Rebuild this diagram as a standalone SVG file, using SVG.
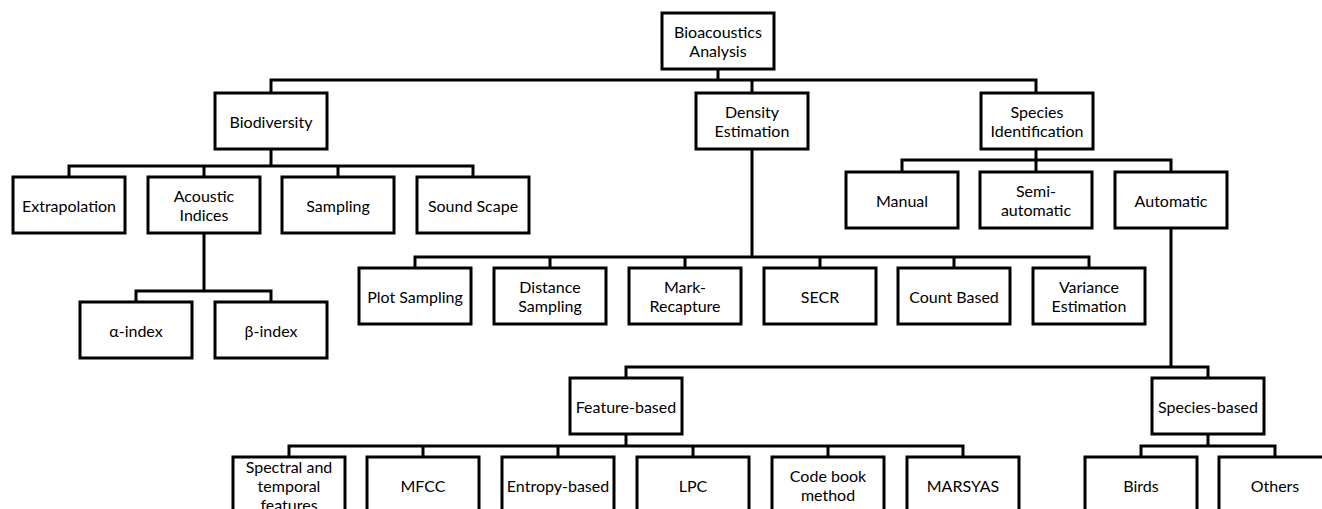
<svg xmlns="http://www.w3.org/2000/svg" width="1322" height="509" viewBox="0 0 1322 509">
<style>
.b{fill:#fff;stroke:#000;stroke-width:3}
.t{font-family:Lato,"Liberation Sans",sans-serif;font-size:16px;fill:#000;text-anchor:middle;dominant-baseline:central}
.c{fill:none;stroke:#000;stroke-width:3;stroke-linecap:square}
</style>
<rect width="1322" height="509" fill="#fff"/>
<g id="connectors">
<path class="c" d="M718 69V80M271 80H1036M271 80V93M752 80V93M1036 80V93"/>
<path class="c" d="M271 149V166M69 166H473M69 166V177M204 166V177M338 166V177M473 166V177"/>
<path class="c" d="M204 233V291M136 291H271M136 291V302M271 291V302"/>
<path class="c" d="M752 149V257M415 257H1089M415 257V268M550 257V268M685 257V268M820 257V268M954 257V268M1089 257V268"/>
<path class="c" d="M1036 149V160M902 160H1171M902 160V172M1036 160V172M1171 160V172"/>
<path class="c" d="M1171 228V367M626 367H1208M626 367V378M1208 367V378"/>
<path class="c" d="M626 434V446M289 446H963M289 446V457M423 446V457M558 446V457M693 446V457M828 446V457M963 446V457"/>
<path class="c" d="M1208 434V446M1141 446H1275M1141 446V457M1275 446V457"/>
</g>
<g id="root"><rect class="b" x="662" y="13" width="112" height="56"/><text class="t" x="718" y="31.5">Bioacoustics</text><text class="t" x="718" y="50.5">Analysis</text></g>
<g id="biodiversity"><rect class="b" x="215" y="93" width="112" height="56"/><text class="t" x="271" y="121">Biodiversity</text></g>
<g id="density"><rect class="b" x="696" y="93" width="112" height="56"/><text class="t" x="752" y="111.5">Density</text><text class="t" x="752" y="130.5">Estimation</text></g>
<g id="species"><rect class="b" x="981" y="93" width="112" height="56"/><text class="t" x="1037" y="111.5">Species</text><text class="t" x="1037" y="130.5">Identification</text></g>
<g id="extrapolation"><rect class="b" x="13" y="177" width="112" height="56"/><text class="t" x="69" y="205">Extrapolation</text></g>
<g id="acoustic"><rect class="b" x="148" y="177" width="112" height="56"/><text class="t" x="204" y="195.5">Acoustic</text><text class="t" x="204" y="214.5">Indices</text></g>
<g id="sampling"><rect class="b" x="282" y="177" width="112" height="56"/><text class="t" x="338" y="205">Sampling</text></g>
<g id="soundscape"><rect class="b" x="417" y="177" width="112" height="56"/><text class="t" x="473" y="205">Sound Scape</text></g>
<g id="manual"><rect class="b" x="846" y="172" width="112" height="56"/><text class="t" x="902" y="200">Manual</text></g>
<g id="semi"><rect class="b" x="980" y="172" width="112" height="56"/><text class="t" x="1036" y="190.5">Semi-</text><text class="t" x="1036" y="209.5">automatic</text></g>
<g id="automatic"><rect class="b" x="1115" y="172" width="112" height="56"/><text class="t" x="1171" y="200">Automatic</text></g>
<g id="alpha"><rect class="b" x="80" y="302" width="112" height="56"/><text class="t" x="136" y="330">α-index</text></g>
<g id="beta"><rect class="b" x="215" y="302" width="112" height="56"/><text class="t" x="271" y="330">β-index</text></g>
<g id="plot"><rect class="b" x="359" y="268" width="112" height="56"/><text class="t" x="415" y="296">Plot Sampling</text></g>
<g id="distance"><rect class="b" x="494" y="268" width="112" height="56"/><text class="t" x="550" y="286.5">Distance</text><text class="t" x="550" y="305.5">Sampling</text></g>
<g id="mark"><rect class="b" x="629" y="268" width="112" height="56"/><text class="t" x="685" y="286.5">Mark-</text><text class="t" x="685" y="305.5">Recapture</text></g>
<g id="secr"><rect class="b" x="764" y="268" width="112" height="56"/><text class="t" x="820" y="296">SECR</text></g>
<g id="count"><rect class="b" x="898" y="268" width="112" height="56"/><text class="t" x="954" y="296">Count Based</text></g>
<g id="variance"><rect class="b" x="1033" y="268" width="112" height="56"/><text class="t" x="1089" y="286.5">Variance</text><text class="t" x="1089" y="305.5">Estimation</text></g>
<g id="feature"><rect class="b" x="570" y="378" width="112" height="56"/><text class="t" x="626" y="406">Feature-based</text></g>
<g id="speciesbased"><rect class="b" x="1152" y="378" width="112" height="56"/><text class="t" x="1208" y="406">Species-based</text></g>
<g id="spectral"><rect class="b" x="233" y="457" width="112" height="56"/><text class="t" x="289" y="466">Spectral and</text><text class="t" x="289" y="485">temporal</text><text class="t" x="289" y="504">features</text></g>
<g id="mfcc"><rect class="b" x="367" y="457" width="112" height="56"/><text class="t" x="423" y="485">MFCC</text></g>
<g id="entropy"><rect class="b" x="502" y="457" width="112" height="56"/><text class="t" x="558" y="485">Entropy-based</text></g>
<g id="lpc"><rect class="b" x="637" y="457" width="112" height="56"/><text class="t" x="693" y="485">LPC</text></g>
<g id="codebook"><rect class="b" x="772" y="457" width="112" height="56"/><text class="t" x="828" y="475.5">Code book</text><text class="t" x="828" y="494.5">method</text></g>
<g id="marsyas"><rect class="b" x="907" y="457" width="112" height="56"/><text class="t" x="963" y="485">MARSYAS</text></g>
<g id="birds"><rect class="b" x="1085" y="457" width="112" height="56"/><text class="t" x="1141" y="485">Birds</text></g>
<g id="others"><rect class="b" x="1219" y="457" width="112" height="56"/><text class="t" x="1275" y="485">Others</text></g>
</svg>
